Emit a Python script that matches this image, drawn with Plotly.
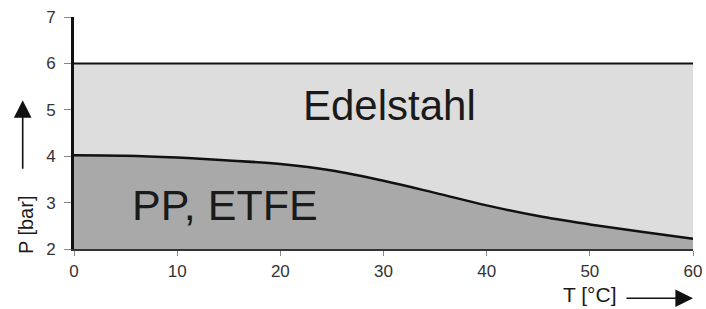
import plotly.graph_objects as go

temps = [0, 5, 10, 15, 20, 25, 30, 35, 40, 45, 50, 55, 60]
p_plastic = [4.02, 4.01, 3.97, 3.91, 3.83, 3.69, 3.47, 3.21, 2.94, 2.71, 2.53, 2.37, 2.22]
steel_t = [0, 60]
steel_p = [6, 6]
x_ticks = [0, 10, 20, 30, 40, 50, 60]
y_ticks = [2, 3, 4, 5, 6, 7]

fig = go.Figure()
fig.add_trace(go.Scatter(x=steel_t, y=steel_p, mode="lines", fill="tozeroy",
                         fillcolor="#dddddd", line=dict(color="#111111", width=2),
                         hoverinfo="skip", showlegend=False))
fig.add_trace(go.Scatter(x=temps, y=p_plastic, mode="lines", fill="tozeroy",
                         fillcolor="#a9a9a9",
                         line=dict(color="#111111", width=2.5, shape="spline", smoothing=1.0),
                         hoverinfo="skip", showlegend=False))

font = "Liberation Sans, Arial, sans-serif"
W, H = 706, 309
L, R, T, B = 74, 13, 16.5, 59.5
fig.update_layout(
    width=W, height=H,
    margin=dict(l=L, r=R, t=T, b=B, autoexpand=False),
    plot_bgcolor="white", paper_bgcolor="white",
    font=dict(family=font, color="#333333", size=17),
    xaxis=dict(range=[0, 60], tickvals=x_ticks, showgrid=False, zeroline=False,
               showline=True, linecolor="#333333", linewidth=2,
               ticks="outside", ticklen=5, tickcolor="#888888",
               ticklabelstandoff=1,
               tickfont=dict(size=17, color="#333333")),
    yaxis=dict(range=[2, 7], tickvals=y_ticks, showgrid=False, zeroline=False,
               showline=True, linecolor="#111111", linewidth=3,
               ticks="outside", ticklen=7, tickcolor="#888888",
               ticklabelstandoff=5,
               tickfont=dict(size=17, color="#333333")),
)

pw, ph = W - L - R, H - T - B

def px(xp):
    return (xp - L) / pw

def py(yp):
    return (H - B - yp) / ph

def label(xp, yp, text, size, angle=0):
    fig.add_annotation(x=px(xp), y=py(yp), xref="paper", yref="paper", text=text,
                       xanchor="center", yanchor="middle", textangle=angle,
                       showarrow=False, font=dict(size=size, color="#1a1a1a", family=font))

label(389, 105, "Edelstahl", 42)
label(224.5, 205, "PP, ETFE", 43)
label(26, 225.5, "P [bar]", 20, -90)
label(590, 295, "T [°C]", 21)

# arrows
fig.add_annotation(x=px(22.7), y=py(100), xref="paper", yref="paper", text="",
                   showarrow=True, ax=0, ay=70, arrowhead=2, arrowsize=2.2,
                   arrowwidth=1.6, arrowcolor="#111111")
fig.add_annotation(x=px(693), y=py(299), xref="paper", yref="paper", text="",
                   showarrow=True, ax=-68, ay=0, arrowhead=2, arrowsize=2.2,
                   arrowwidth=1.6, arrowcolor="#111111")

fig.write_html("out.html", config={"displayModeBar": False},
               post_script="document.body.style.margin='0';document.body.style.overflow='hidden';")
